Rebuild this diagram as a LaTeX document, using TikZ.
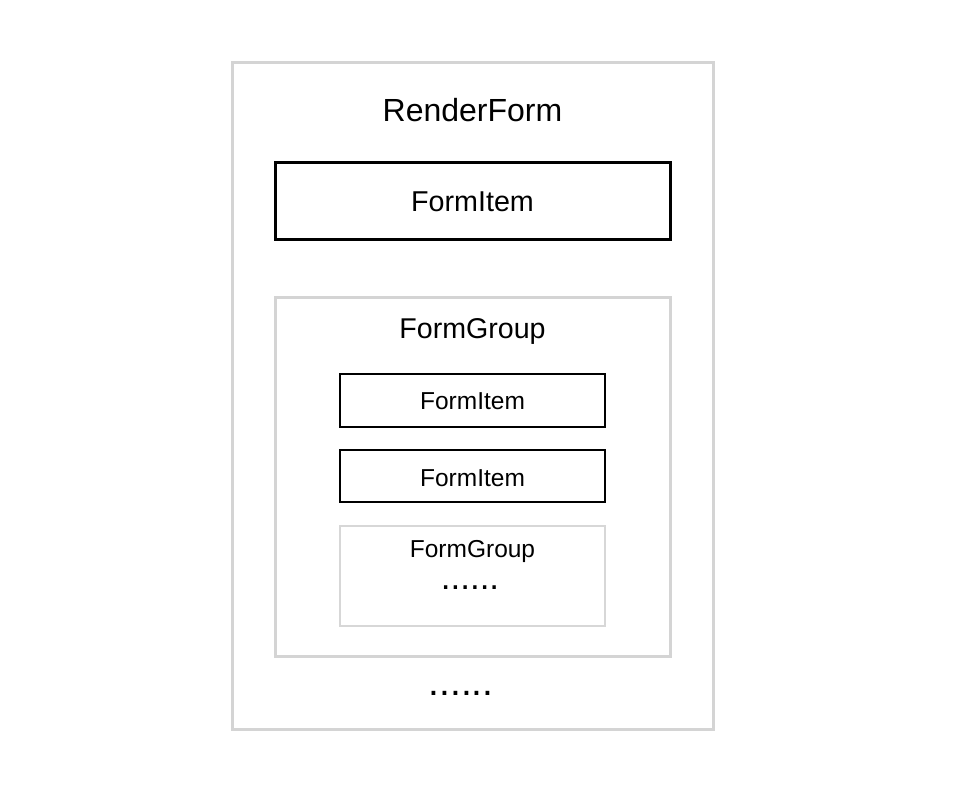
\documentclass[tikz,border=0pt]{standalone}
\usepackage{fontspec}
\setmainfont{Liberation Sans}
\definecolor{framegray}{RGB}{212,212,212}
\definecolor{lightgray}{RGB}{215,215,215}

\begin{document}
\begin{tikzpicture}[x=1pt,y=-1pt,
		box/.style={rectangle,inner sep=0pt,outer sep=0pt},
		label text/.style={inner sep=0pt,anchor=base}]
		\useasboundingbox (0,0) rectangle (954,786);
		% frames
		\node[box,draw=framegray,line width=3pt,minimum width=481pt,minimum height=666pt] (render) at (472.5,396) {};
		\node[box,draw=black,line width=3pt,minimum width=395pt,minimum height=77pt] (topitem) at (472.5,201.5) {};
		\node[box,draw=framegray,line width=3pt,minimum width=395pt,minimum height=358pt] (group) at (472.5,477) {};
		\node[box,draw=black,line width=2pt,minimum width=265pt,minimum height=53pt] (itema) at (472.5,400.5) {};
		\node[box,draw=black,line width=2pt,minimum width=265pt,minimum height=52pt] (itemb) at (472.5,476) {};
		\node[box,draw=lightgray,line width=1.5pt,minimum width=265pt,minimum height=100pt] (subgroup) at (472.5,576) {};
		% texts
		\node[label text,font=\fontsize{32}{36}\selectfont] (renderlabel) at (472.5,121.5) {RenderForm};
		\node[label text,font=\fontsize{28.7}{32}\selectfont] (topitemlabel) at (472.5,212) {FormItem};
		\node[label text,font=\fontsize{28.6}{32}\selectfont] (grouplabel) at (472.5,339) {FormGroup};
		\node[label text,font=\fontsize{24.5}{28}\selectfont] (itemalabel) at (472.5,410) {FormItem};
		\node[label text,font=\fontsize{24.5}{28}\selectfont] (itemblabel) at (472.5,486) {FormItem};
		\node[label text,font=\fontsize{24.5}{28}\selectfont] (subgrouplabel) at (472.5,557) {FormGroup};
		\node[label text,font=\fontsize{35}{38}\selectfont] (subgroupdots) at (470,589) {......};
		\node[label text,font=\fontsize{39}{42}\selectfont] (renderdots) at (461,695) {......};
	\end{tikzpicture}
\end{document}
